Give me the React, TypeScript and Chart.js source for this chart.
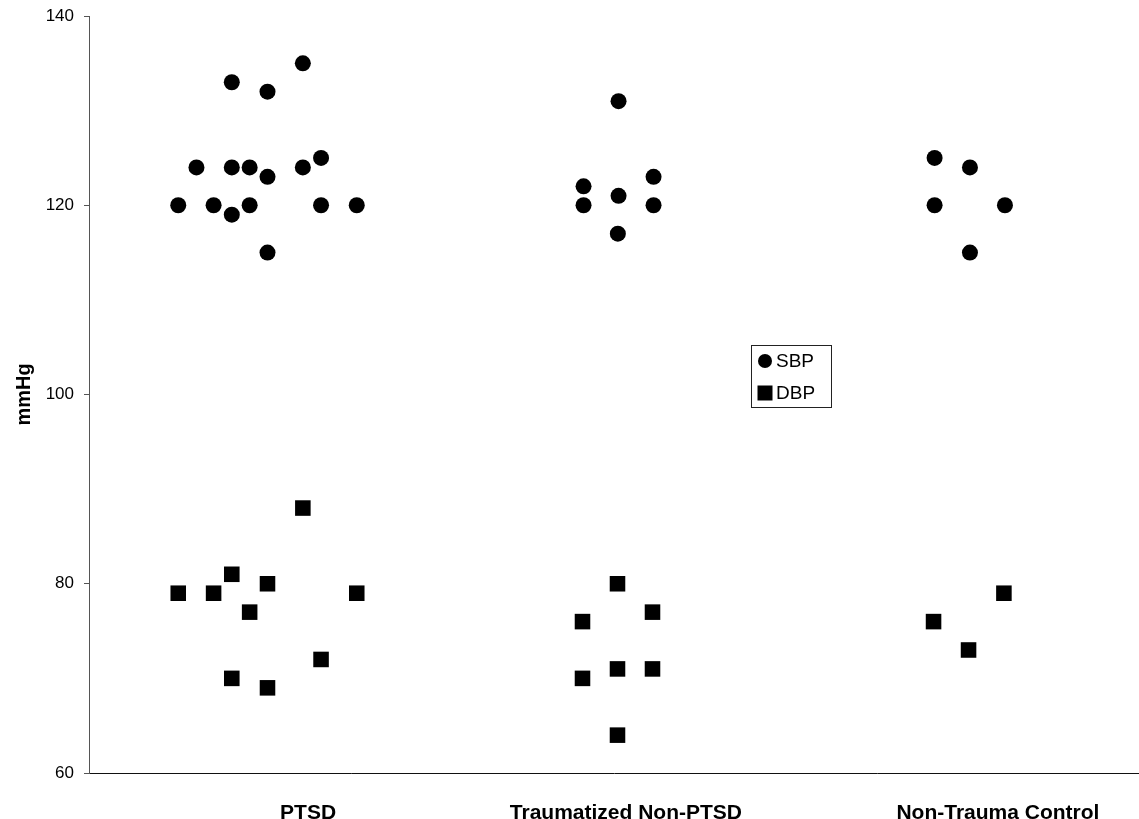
import React, { useEffect, useRef } from "react";
import { Chart, registerables } from "chart.js";

Chart.register(...registerables);

const FONT = '"Liberation Sans", Arial, Helvetica, sans-serif';

// Category labels and where they sit along the x axis
const categories = ["PTSD", "Traumatized Non-PTSD", "Non-Trauma Control"];
const categoryTickX = [1.126, 2.034, 3.097];

// y axis ticks (mmHg)
const yTicks = [60, 80, 100, 120, 140];

// SBP (circles): jittered x position and value
const sbpX = [
  0.755, 0.807, 0.856, 0.908, 0.908, 0.908, 0.959, 0.959, 1.01, 1.01, 1.01, 1.111, 1.111, 1.163, 1.163, 1.265,
  1.913, 1.913, 2.013, 2.013, 2.011, 2.113, 2.113,
  2.916, 2.916, 3.017, 3.017, 3.117,
];
const sbpY = [
  120, 124, 120, 133, 124, 119, 124, 120, 132, 123, 115, 135, 124, 125, 120, 120,
  122, 120, 131, 121, 117, 123, 120,
  125, 120, 124, 115, 120,
];

// DBP (squares): jittered x position and value
const dbpX = [
  0.755, 0.856, 0.908, 0.908, 0.959, 1.01, 1.01, 1.111, 1.163, 1.265,
  1.91, 1.91, 2.01, 2.01, 2.01, 2.11, 2.11,
  2.913, 3.013, 3.114,
];
const dbpY = [
  79, 79, 81, 70, 77, 80, 69, 88, 72, 79,
  76, 70, 80, 71, 64, 77, 71,
  76, 73, 79,
];

const toPoints = (xs: number[], ys: number[]) => xs.map((x, i) => ({ x, y: ys[i] }));

const boxLegendPlugin = {
  id: "boxLegend",
  afterDraw(chart: any) {
    const o = chart.options.plugins.boxLegend;
    if (!o) return;
    const ctx: CanvasRenderingContext2D = chart.ctx;
    ctx.save();
    ctx.fillStyle = "#fff";
    ctx.fillRect(o.left, o.top, o.width, o.height);
    ctx.strokeStyle = "#222";
    ctx.lineWidth = 1;
    ctx.strokeRect(o.left + 0.5, o.top + 0.5, o.width, o.height);
    ctx.font = `${o.fontSize}px ${FONT}`;
    ctx.textBaseline = "middle";
    ctx.textAlign = "left";
    chart.data.datasets.forEach((ds: any, i: number) => {
      const cy = o.top + o.firstRow + i * o.rowGap;
      const cx = o.left + o.markerX;
      ctx.fillStyle = ds.backgroundColor;
      if (ds.pointStyle === "rect") {
        const s = o.squareSize;
        ctx.fillRect(cx - s / 2, cy - s / 2, s, s);
      } else {
        ctx.beginPath();
        ctx.arc(cx, cy, o.circleRadius, 0, Math.PI * 2);
        ctx.fill();
      }
      ctx.fillStyle = "#000";
      ctx.fillText(ds.label, o.left + o.textX, cy + 1);
    });
    ctx.restore();
  },
};

export default function App() {
  const canvasRef = useRef<HTMLCanvasElement | null>(null);

  useEffect(() => {
    if (!canvasRef.current) return;
    const chart = new Chart(canvasRef.current, {
      type: "scatter",
      data: {
        datasets: [
          {
            label: "SBP",
            data: toPoints(sbpX, sbpY),
            pointStyle: "circle",
            pointRadius: 8,
            pointHoverRadius: 8,
            borderWidth: 0,
            backgroundColor: "#000",
            borderColor: "#000",
          },
          {
            label: "DBP",
            data: toPoints(dbpX, dbpY),
            pointStyle: "rect",
            pointRadius: 11,
            pointHoverRadius: 11,
            borderWidth: 0,
            backgroundColor: "#000",
            borderColor: "#000",
          },
        ],
      },
      options: {
        animation: false,
        responsive: true,
        maintainAspectRatio: false,
        layout: { autoPadding: false, padding: { top: 16, left: 0, right: 0, bottom: 0 } },
        plugins: {
          legend: { display: false },
          tooltip: { enabled: false },
          boxLegend: {
            left: 751,
            top: 345,
            width: 80,
            height: 62,
            firstRow: 16,
            rowGap: 32,
            markerX: 14,
            circleRadius: 7,
            squareSize: 15,
            textX: 25,
            fontSize: 19,
          },
        } as any,
        scales: {
          x: {
            type: "linear",
            min: 0.5,
            max: 3.5,
            afterBuildTicks: (scale: any) => {
              scale.ticks = categoryTickX.map((v) => ({ value: v }));
            },
            afterFit: (scale: any) => {
              scale.height = 46;
              scale.paddingLeft = 0;
              scale.paddingRight = 0;
            },
            ticks: {
              autoSkip: false,
              maxRotation: 0,
              minRotation: 0,
              padding: 20,
              color: "#000",
              font: { family: FONT, size: 21, weight: "bold" },
              callback: (_v: any, i: number) => categories[i],
            },
            grid: { display: false },
            border: { display: true, color: "#111", width: 1 },
          },
          y: {
            type: "linear",
            min: 60,
            max: 140,
            afterBuildTicks: (scale: any) => {
              scale.ticks = yTicks.map((v) => ({ value: v }));
            },
            afterFit: (scale: any) => {
              scale.width = 89;
              scale.paddingTop = 0;
              scale.paddingBottom = 0;
            },
            ticks: {
              padding: 10,
              color: "#000",
              font: { family: FONT, size: 17 },
            },
            grid: {
              display: true,
              drawOnChartArea: false,
              drawTicks: true,
              tickLength: 5,
              color: "#555",
            },
            border: { display: true, color: "#555", width: 1 },
            title: {
              display: true,
              text: "mmHg",
              color: "#000",
              font: { family: FONT, size: 20, weight: "bold" },
              padding: { top: 12, bottom: 0 },
            },
          },
        },
      },
      plugins: [boxLegendPlugin],
    });
    return () => chart.destroy();
  }, []);

  return (
    <div style={{ position: "fixed", left: 0, top: 0, width: 1139, height: 819, background: "#fff" }}>
      <canvas ref={canvasRef} />
    </div>
  );
}
